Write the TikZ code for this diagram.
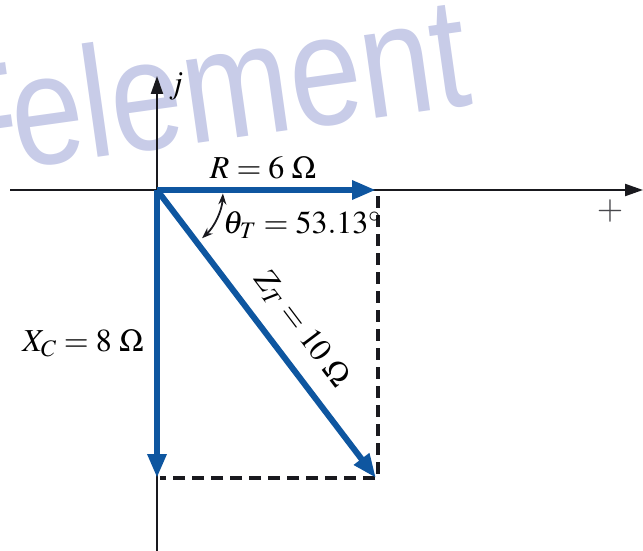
\documentclass[tikz,border=0pt]{standalone}
\usepackage{mathptmx}
\usepackage{fontspec}
\newfontfamily\wmfont{Liberation Sans}
\usetikzlibrary{arrows.meta}
\definecolor{vblue}{RGB}{14,86,160}
\definecolor{wm}{RGB}{200,204,232}
\definecolor{axisc}{RGB}{25,25,30}
\tikzset{
  axisline/.style={draw=axisc, line width=2.2pt, -{Triangle[length=18pt,width=12pt]}},
  phasor/.style={draw=vblue, line width=6pt, -{Triangle[length=24pt,width=18pt]}},
  dashline/.style={draw=axisc, line width=3.4pt, dash pattern=on 12pt off 7pt},
  lbl/.style={inner sep=0pt, font=\fontsize{32}{32}\selectfont},
  wmtext/.style={inner sep=0pt, text=wm, font=\wmfont\fontsize{158}{158}\selectfont, rotate=8}
}
\begin{document}
\begin{tikzpicture}[x=1pt,y=-1pt]
\useasboundingbox (0,0) rectangle (643,551);
% watermark
\begin{scope}
\clip (0,0) rectangle (643,551);
\node[wmtext, anchor=base west, xscale=0.82] (wmA) at (18,169) {element};
\node[wmtext, anchor=base east, xscale=0.82] (wmB) at (26,169) {F};
\end{scope}
% key points
\coordinate (O) at (157,190);
\coordinate (Rtip) at (376,190);
\coordinate (Xtip) at (157,478);
\coordinate (Ztip) at (376,478);
\coordinate (Hleft) at (10,190);
\coordinate (Hright) at (643,190);
\coordinate (Vbot) at (157,551);
\coordinate (Vtop) at (157,76);
\coordinate (Dtop) at (378,196);
\coordinate (Dcorner) at (378,478);
\coordinate (Dleft) at (160,478);
% axes
\draw[axisline] (Hleft) -- (Hright);
\draw[axisline] (Vbot) -- (Vtop);
% dashed completion lines
\draw[dashline] (Dtop) -- (Dcorner) -- (Dleft);
% phasors
\draw[phasor] (O) -- (Xtip);
\draw[phasor] (O) -- (Ztip);
\draw[phasor] (O) -- (Rtip);
% angle arc
\draw[axisc, line width=1.8pt, {Stealth[length=11pt,width=8pt]}-{Stealth[length=11pt,width=8pt]}]
  (O) ++(3:66) arc[start angle=3, end angle=47, radius=66];
% labels
\node[lbl] (jl) at (176,86) {$j$};
\node[lbl] (Rl) at (263,168) {$R = 6\;\Omega$};
\node[lbl] (thl) at (302,225) {$\theta_T = 53.13^\circ$};
\node[lbl] (Xl) at (83,343) {$X_C = 8\;\Omega$};
\node[lbl, rotate=-52.9] (Zl) at (302,329) {$Z_T = 10\;\Omega$};
\node[inner sep=0pt, text=axisc!80, font=\fontsize{34}{34}\selectfont] (plus) at (610,211) {$+$};
\end{tikzpicture}
\end{document}
